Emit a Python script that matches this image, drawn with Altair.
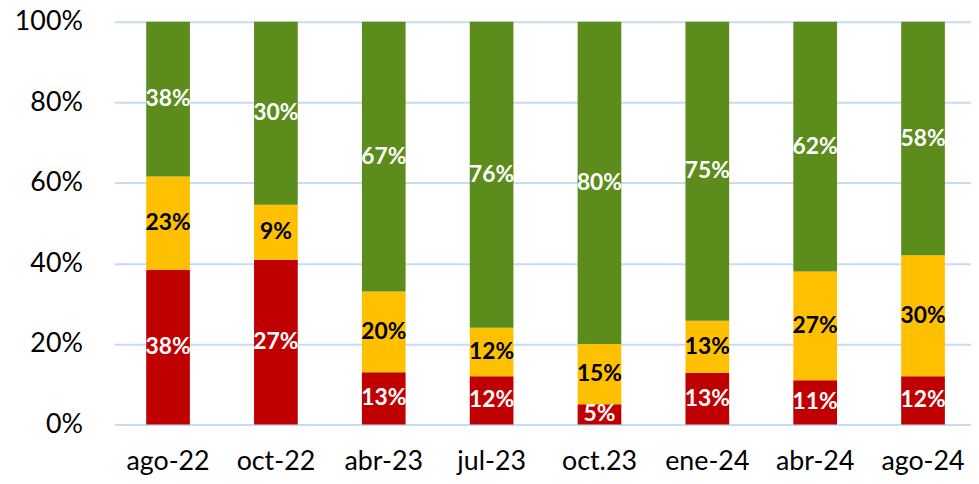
import altair as alt
import pandas as pd

categories = ["ago-22", "oct-22", "abr-23", "jul-23", "oct.23", "ene-24", "abr-24", "ago-24"]
red_vals = [38, 27, 13, 12, 5, 13, 11, 12]
yellow_vals = [23, 9, 20, 12, 15, 13, 27, 30]
green_vals = [38, 30, 67, 76, 80, 75, 62, 58]

series = [
    ("rojo", red_vals, "#C00000", "#FFFFFF", 0),
    ("amarillo", yellow_vals, "#FFC000", "#000000", 1),
    ("verde", green_vals, "#5B8C1C", "#FFFFFF", 2),
]

rows = []
for name, vals, fill, tcol, order in series:
    for c, v in zip(categories, vals):
        rows.append({"cat": c, "serie": name, "v": v, "fill": fill, "tcol": tcol, "ord": order,
                     "label": f"{v}%"})
df = pd.DataFrame(rows)

FONT = "Lato"

base = alt.Chart(df).transform_stack(
    stack="v", groupby=["cat"], sort=[alt.SortField("ord", order="ascending")],
    offset="normalize", as_=["v0", "v1"]
).transform_calculate(mid="(datum.v0 + datum.v1) / 2")

x_enc = alt.X("cat:N", sort=categories, title=None,
              scale=alt.Scale(paddingInner=0.595, paddingOuter=0.2975, range=[0, 870]),
              axis=alt.Axis(labelAngle=0, domain=False, ticks=False, grid=False,
                            labelFont=FONT, labelFontSize=27, labelColor="#000000",
                            labelPadding=24))

bars = base.mark_bar().encode(
    x=x_enc,
    y=alt.Y("v0:Q", title=None, scale=alt.Scale(domain=[0, 1]),
            axis=alt.Axis(values=[0, 0.2, 0.4, 0.6, 0.8, 1.0], format=".0%",
                          domain=False, ticks=False, grid=True,
                          gridColor="#C5DCF5", gridWidth=2,
                          labelFont=FONT, labelFontSize=27, labelColor="#000000",
                          labelPadding=32)),
    y2="v1:Q",
    color=alt.Color("fill:N", scale=None),
)

texts = base.mark_text(font=FONT, fontSize=23, fontWeight="bold", clip=True,
                       align="center", baseline="middle").encode(
    x=alt.X("cat:N", sort=categories),
    y=alt.Y("mid:Q"),
    text="label:N",
    color=alt.Color("tcol:N", scale=None),
)

chart = alt.layer(bars, texts).properties(
    width=864, height=406,
    autosize=alt.AutoSizeParams(type="none"),
    padding={"left": 107, "top": 12, "right": 0, "bottom": 50},
).configure_view(stroke=None)

chart.save("out.html", embed_options={"renderer": "svg", "actions": False})
